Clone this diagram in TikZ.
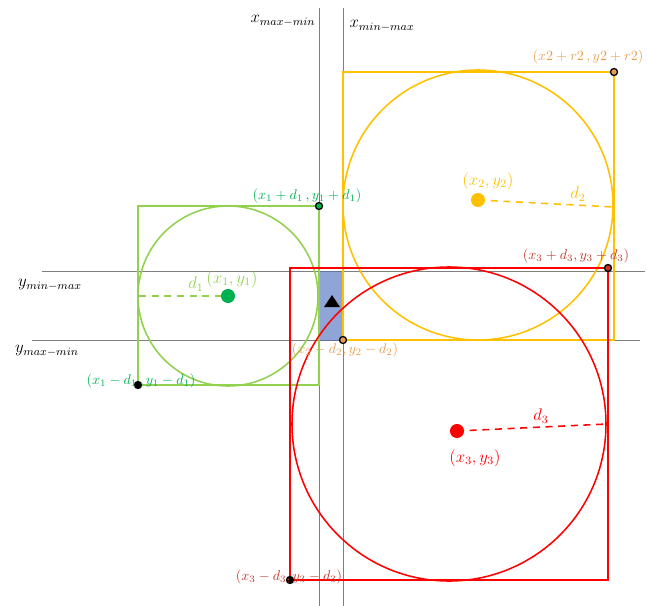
\documentclass[tikz,border=0pt]{standalone}
\usepackage{xcolor}
\usepackage{tikz}
\usetikzlibrary{positioning}

\definecolor{verde}{HTML}{92D050}
\definecolor{verdescuro}{HTML}{00B050}
\definecolor{giallo}{HTML}{FFC000}
\definecolor{arancio}{HTML}{E59E4E}
\definecolor{rosso}{HTML}{FF0000}
\definecolor{rossoscuro}{HTML}{C0392B}
\definecolor{blu}{HTML}{8FA5D8}
\definecolor{grigio}{HTML}{7F7F7F}

\begin{document}
\begin{tikzpicture}[x=0.025cm, y=-0.025cm,
    every node/.style={inner sep=1pt},
    vertice/.style={circle, draw=black, fill=#1, line width=0.9pt, inner sep=0pt, minimum size=5pt},
    centro/.style={circle, fill=#1, inner sep=0pt, minimum size=10pt},
    retta/.style={grigio, line width=0.6pt},
    raggio/.style={dashed, line width=1.1pt, dash pattern=on 5pt off 4pt}]
    \useasboundingbox (0,0) rectangle (647,606);

    % Rette
    \draw[retta] (319,8) -- (319,606);
    \draw[retta] (343,8) -- (343,606);
    \draw[retta] (42,271) -- (645,271);
    \draw[retta] (32,340) -- (640,340);
    \node (xmm) at (283,21) {\large $x_{max-min}$};
    \node (xnm) at (382,26) {\large $x_{min-max}$};
    \node (ynm) at (50,285) {\large $y_{min-max}$};
    \node (ymm) at (47,351) {\large $y_{max-min}$};

    % Intersezione
    \fill[blu, draw=blu!70!black, line width=0.6pt] (319,271) rectangle (343,340);
    \fill (332,295) -- (340,307) -- (324,307) -- cycle;

    % Cerchio 1
    \coordinate (c1) at (228,296);
    \draw[verde, line width=1.3pt] (138,206) rectangle (319,385);
    \draw[verde, line width=1.1pt] (c1) circle (90);
    \draw[verde, raggio] (139,296) -- (c1);
    \node[centro=verdescuro] (p1) at (c1) {};
    \node[verde] (d1) at (196,284) {\large $d_1$};
    \node[verde] (l1) at (232,279) {\large $(x_1,y_1)$};

    % Cerchio 2
    \coordinate (c2) at (478,205);
    \draw[giallo, line width=1.3pt] (343,72) rectangle (614,340);
    \draw[giallo, line width=1.1pt] (c2) circle (135);
    \draw[giallo, raggio] (478,200) -- (614,207);
    \node[centro=giallo] (p2) at (478,200) {};
    \node[giallo] (d2) at (578,194) {\large $d_2$};
    \node[giallo] (l2) at (488,181) {\large $(x_2,y_2)$};

    % Cerchio 3
    \coordinate (c3) at (449,424);
    \draw[rosso, line width=1.3pt] (290,268) rectangle (608,580);
    \draw[rosso, line width=1.1pt] (c3) circle (157);
    \draw[rosso, raggio] (457,431) -- (607,424);
    \node[centro=rosso] (p3) at (457,431) {};
    \node[rosso] (d3) at (541,416) {\large $d_3$};
    \node[rosso] (l3) at (475,458) {\large $(x_3,y_3)$};

    % Vertici
    \node[vertice=verdescuro] (v1a) at (319,206) {};
    \node[vertice=black] (v1b) at (138,385) {};
    \node[vertice=arancio] (v2a) at (614,72) {};
    \node[vertice=arancio] (v2b) at (343,340) {};
    \node[vertice=rossoscuro] (v3a) at (608,268) {};
    \node[vertice=black] (v3b) at (290,580) {};
    \node[verdescuro] at (307,196) {$(x_1+d_1\,,y_1+d_1)$};
    \node[verdescuro] at (141,381) {$(x_1-d_1\,,y_1-d_1)$};
    \node[arancio] at (588,57) {$(x2+r2\,,y2+r2)$};
    \node[arancio] at (345,350) {$(x_2-d_2,y_2-d_2)$};
    \node[rossoscuro] at (576,256) {$(x_3+d_3,y_3+d_3)$};
    \node[rossoscuro] at (289,577) {$(x_3-d_3,y_3-d_3)$};
\end{tikzpicture}
\end{document}
